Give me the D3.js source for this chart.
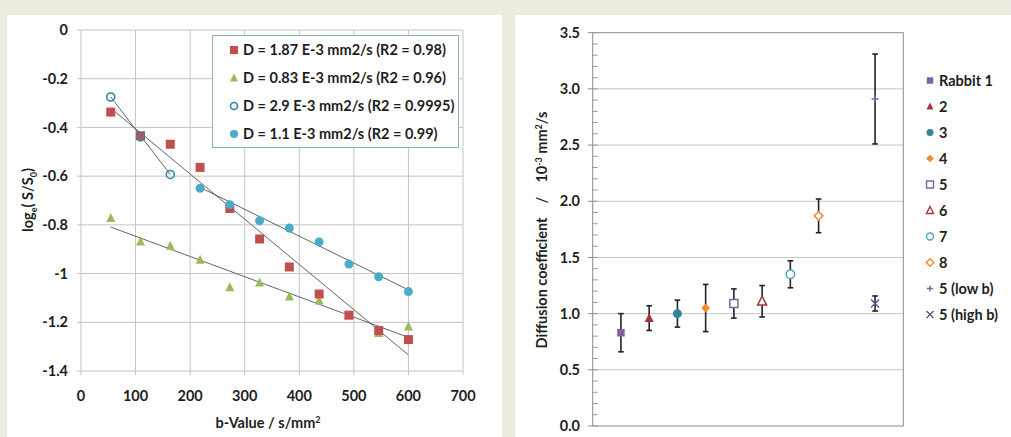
<!DOCTYPE html>
<html>
<head>
<meta charset="utf-8">
<script src="https://cdn.jsdelivr.net/npm/d3@7"></script>
<style>
  body { margin: 0; background: #eeebe1; }
  svg { display: block; font-family: Lato, "Open Sans", sans-serif; }
  text { fill: #1e1e1e; font-weight: bold; }
</style>
</head>
<body>
<svg id="chart" width="1011" height="437"></svg>
<script>
// ---- left chart data ----
const bValues = [54.5, 109, 163.6, 218.2, 272.7, 327.3, 381.8, 436.4, 490.9, 545.5, 600];
const redLog = [-0.337, -0.434, -0.469, -0.564, -0.733, -0.858, -0.973, -1.084, -1.171, -1.234, -1.271];
const greenLog = [-0.773, -0.869, -0.887, -0.944, -1.057, -1.037, -1.095, -1.111, -1.171, -1.245, -1.218];
const openBlueB = [54.5, 109, 163.6];
const openBlueLog = [-0.275, -0.439, -0.593];
const fullBlueB = [218.2, 272.7, 327.3, 381.8, 436.4, 490.9, 545.5, 600];
const fullBlueLog = [-0.650, -0.717, -0.783, -0.813, -0.870, -0.961, -1.013, -1.074];
// trend line ends: [b start, b end, value start, value end]
const trendRed = [54.5, 600, -0.321, -1.334];
const trendGreen = [54.5, 600, -0.809, -1.262];
const trendOpen = [54.5, 163.6, -0.275, -0.593];
const trendFull = [218.2, 600, -0.646, -1.067];
const legendLeft = ["D = 1.87 E-3 mm2/s (R2 = 0.98)", "D = 0.83 E-3 mm2/s (R2 = 0.96)",
  "D = 2.9 E-3 mm2/s (R2 = 0.9995)", "D = 1.1 E-3 mm2/s (R2 = 0.99)"];
const xTicksLeft = [0, 100, 200, 300, 400, 500, 600, 700];
const yTicksLeft = [0, -0.2, -0.4, -0.6, -0.8, -1, -1.2, -1.4];

// ---- right chart data ----
const rabbits = ["Rabbit 1", "2", "3", "4", "5", "6", "7", "8", "5 (low b)", "5 (high b)"];
const rabbitSlot = [1, 2, 3, 4, 5, 6, 7, 8, 10, 10];
const diffusion = [0.83, 0.96, 1.00, 1.05, 1.09, 1.11, 1.35, 1.87, 2.91, 1.09];
const diffErr = [0.17, 0.11, 0.12, 0.21, 0.13, 0.14, 0.12, 0.15, 0.40, 0.067];
const yTicksRight = [0.0, 0.5, 1.0, 1.5, 2.0, 2.5, 3.0, 3.5];

const svg = d3.select("#chart");

// panels
svg.append("rect").attr("x", 0).attr("y", 0).attr("width", 1011).attr("height", 437).attr("fill", "#eeebe1");
svg.append("rect").attr("x", 7).attr("y", 15).attr("width", 495).attr("height", 422).attr("fill", "#fff");
svg.append("rect").attr("x", 515).attr("y", 15).attr("width", 496).attr("height", 422).attr("fill", "#fff");

// marker path helper
function markerPath(kind, s) {
  const h = s / 2;
  if (kind === "square") return `M${-h},${-h}H${h}V${h}H${-h}Z`;
  if (kind === "triangle") return `M0,${-h * 1.15}L${h},${h * 0.85}L${-h},${h * 0.85}Z`;
  if (kind === "diamond") return `M0,${-h * 1.1}L${h * 1.1},0L0,${h * 1.1}L${-h * 1.1},0Z`;
  if (kind === "circle") return d3.arc()({ innerRadius: 0, outerRadius: h, startAngle: 0, endAngle: 2 * Math.PI });
  if (kind === "plus") return `M${-h},0H${h}M0,${-h}V${h}`;
  if (kind === "times") return `M${-h},${-h}L${h},${h}M${h},${-h}L${-h},${h}`;
}

// ================= LEFT CHART =================
const xL = d3.scaleLinear().domain([0, 700]).range([81, 463]);
const yL = d3.scaleLinear().domain([-1.4, 0]).range([371, 30]);
const gL = svg.append("g");

gL.append("g").selectAll("line").data(xTicksLeft).join("line")
  .attr("x1", d => xL(d)).attr("x2", d => xL(d)).attr("y1", yL(0)).attr("y2", yL(-1.4) + 4)
  .attr("stroke", "#c4c4c4");
gL.append("g").selectAll("line").data(yTicksLeft).join("line")
  .attr("x1", xL(0) - 4).attr("x2", xL(700)).attr("y1", d => yL(d)).attr("y2", d => yL(d))
  .attr("stroke", "#c4c4c4");

gL.append("g").selectAll("text").data(yTicksLeft).join("text")
  .attr("x", 68).attr("y", d => yL(d)).attr("dy", "0.35em").attr("text-anchor", "end")
  .attr("font-size", 14.5).text(d => String(d));
gL.append("g").selectAll("text").data(xTicksLeft).join("text")
  .attr("x", d => xL(d)).attr("y", 396).attr("dy", "0.35em").attr("text-anchor", "middle")
  .attr("font-size", 14.5).text(d => d);

gL.append("text").attr("x", xL(350) - 4).attr("y", 423).attr("dy", "0.35em").attr("text-anchor", "middle")
  .attr("font-size", 14.5).html('b-Value / s/mm<tspan dy="-5" font-size="9">2</tspan>');
gL.append("text").attr("transform", "translate(28,200) rotate(-90)").attr("text-anchor", "middle")
  .attr("dy", "0.35em").attr("font-size", 14.5)
  .html('log<tspan dy="4" font-size="9">e</tspan><tspan dy="-4">( S/S</tspan><tspan dy="4" font-size="9">0</tspan><tspan dy="-4">)</tspan>');

// trend lines
[trendRed, trendGreen, trendOpen, trendFull].forEach(t => {
  gL.append("line").attr("x1", xL(t[0])).attr("x2", xL(t[1])).attr("y1", yL(t[2])).attr("y2", yL(t[3]))
    .attr("stroke", "#555").attr("stroke-width", 0.9);
});

const redColor = "#c0504d", greenColor = "#9bbb59", openBlue = "#31859c", fullBlue = "#4bacc6";

gL.append("g").selectAll("path").data(greenLog).join("path")
  .attr("transform", (d, i) => `translate(${xL(bValues[i])},${yL(d)})`)
  .attr("d", markerPath("triangle", 9)).attr("fill", greenColor);
gL.append("g").selectAll("path").data(redLog).join("path")
  .attr("transform", (d, i) => `translate(${xL(bValues[i])},${yL(d)})`)
  .attr("d", markerPath("square", 9)).attr("fill", redColor);
gL.append("g").selectAll("path").data(fullBlueLog).join("path")
  .attr("transform", (d, i) => `translate(${xL(fullBlueB[i])},${yL(d)})`)
  .attr("d", markerPath("circle", 9)).attr("fill", fullBlue);
gL.append("g").selectAll("path").data(openBlueLog).join("path")
  .attr("transform", (d, i) => `translate(${xL(openBlueB[i])},${yL(d)})`)
  .attr("d", markerPath("circle", 8)).attr("fill", "none").attr("stroke", openBlue).attr("stroke-width", 1.6);

// legend
const legL = gL.append("g");
legL.append("rect").attr("x", 212.5).attr("y", 35.5).attr("width", 246).attr("height", 112)
  .attr("fill", "#fff").attr("stroke", "#8fb0bf");
const legStyles = [
  { kind: "square", fill: redColor, stroke: "none" },
  { kind: "triangle", fill: greenColor, stroke: "none" },
  { kind: "circle", fill: "none", stroke: openBlue },
  { kind: "circle", fill: fullBlue, stroke: "none" }
];
legendLeft.forEach((lab, i) => {
  const y = 50 + i * 28;
  const st = legStyles[i];
  legL.append("path").attr("transform", `translate(234,${y})`)
    .attr("d", markerPath(st.kind, st.stroke === "none" ? 8 : 7))
    .attr("fill", st.fill).attr("stroke", st.stroke).attr("stroke-width", 1.6);
  legL.append("text").attr("x", 243).attr("y", y).attr("dy", "0.35em").attr("font-size", 14.5).text(lab);
});

// ================= RIGHT CHART =================
const xR = d3.scaleLinear().domain([0, 11]).range([592.7, 903.3]);
const yR = d3.scaleLinear().domain([0, 3.5]).range([426, 32.7]);
const gR = svg.append("g");

gR.append("g").selectAll("line").data(yTicksRight.slice(1, -1)).join("line")
  .attr("x1", xR(0)).attr("x2", xR(11)).attr("y1", d => yR(d)).attr("y2", d => yR(d))
  .attr("stroke", "#c4c4c4");
gR.append("rect").attr("x", xR(0)).attr("y", yR(3.5)).attr("width", xR(11) - xR(0)).attr("height", yR(0) - yR(3.5))
  .attr("fill", "none").attr("stroke", "#8c8c8c");
// minor ticks inside, major ticks outside
gR.append("g").selectAll("line").data(d3.range(0, 36).map(d => d / 10)).join("line")
  .attr("x1", xR(0)).attr("x2", xR(0) + 5).attr("y1", d => yR(d)).attr("y2", d => yR(d))
  .attr("stroke", "#9a9a9a");
gR.append("g").selectAll("line").data(yTicksRight).join("line")
  .attr("x1", xR(0) - 5).attr("x2", xR(0)).attr("y1", d => yR(d)).attr("y2", d => yR(d))
  .attr("stroke", "#8c8c8c");
gR.append("g").selectAll("text").data(yTicksRight).join("text")
  .attr("x", 580).attr("y", d => yR(d)).attr("dy", "0.35em").attr("text-anchor", "end")
  .attr("font-size", 14.5).text(d => d3.format(".1f")(d));

gR.append("text").attr("transform", "translate(542,230) rotate(-90)").attr("text-anchor", "middle")
  .attr("dy", "0.35em").attr("font-size", 14.5).attr("xml:space", "preserve")
  .html('Diffusion coefficient    /    10<tspan dy="-5" font-size="9">-3</tspan><tspan dy="5"> mm</tspan><tspan dy="-5" font-size="9">2</tspan><tspan dy="5">/s</tspan>');

// error bars
const eb = gR.append("g").attr("stroke", "#222").attr("stroke-width", 1.6);
diffusion.forEach((v, i) => {
  const x = xR(rabbitSlot[i]);
  eb.append("line").attr("x1", x).attr("x2", x).attr("y1", yR(v - diffErr[i])).attr("y2", yR(v + diffErr[i]));
  [v - diffErr[i], v + diffErr[i]].forEach(e => {
    eb.append("line").attr("x1", x - 2.8).attr("x2", x + 2.8).attr("y1", yR(e)).attr("y2", yR(e));
  });
});

const purple = "#7f63a1", darkRed = "#a3363b", teal = "#31859c", orange = "#f38a2e", lightTeal = "#4aa4be";
const rightStyles = [
  { kind: "square", fill: purple, stroke: "none", size: 7.5 },
  { kind: "triangle", fill: darkRed, stroke: "none", size: 9 },
  { kind: "circle", fill: teal, stroke: "none", size: 9 },
  { kind: "diamond", fill: orange, stroke: "none", size: 8 },
  { kind: "square", fill: "#fff", stroke: purple, size: 8 },
  { kind: "triangle", fill: "#fff", stroke: darkRed, size: 9 },
  { kind: "circle", fill: "#fff", stroke: lightTeal, size: 8.5 },
  { kind: "diamond", fill: "#fff", stroke: orange, size: 8 },
  { kind: "plus", fill: "none", stroke: purple, size: 7 },
  { kind: "times", fill: "none", stroke: "#5f5490", size: 8 }
];

gR.append("g").selectAll("path").data(diffusion).join("path")
  .attr("transform", (d, i) => `translate(${xR(rabbitSlot[i])},${yR(d)})`)
  .attr("d", (d, i) => markerPath(rightStyles[i].kind, rightStyles[i].size))
  .attr("fill", (d, i) => rightStyles[i].fill).attr("stroke", (d, i) => rightStyles[i].stroke)
  .attr("stroke-width", 1.5);

// legend
rabbits.forEach((lab, i) => {
  const y = 80.5 + i * 26;
  const st = rightStyles[i];
  gR.append("path").attr("transform", `translate(930,${y})`)
    .attr("d", markerPath(st.kind, Math.min(st.size, 8) - 1))
    .attr("fill", st.fill).attr("stroke", st.stroke).attr("stroke-width", 1.4);
  gR.append("text").attr("x", 939).attr("y", y).attr("dy", "0.35em").attr("font-size", 14.5).text(lab);
});
</script>
</body>
</html>
